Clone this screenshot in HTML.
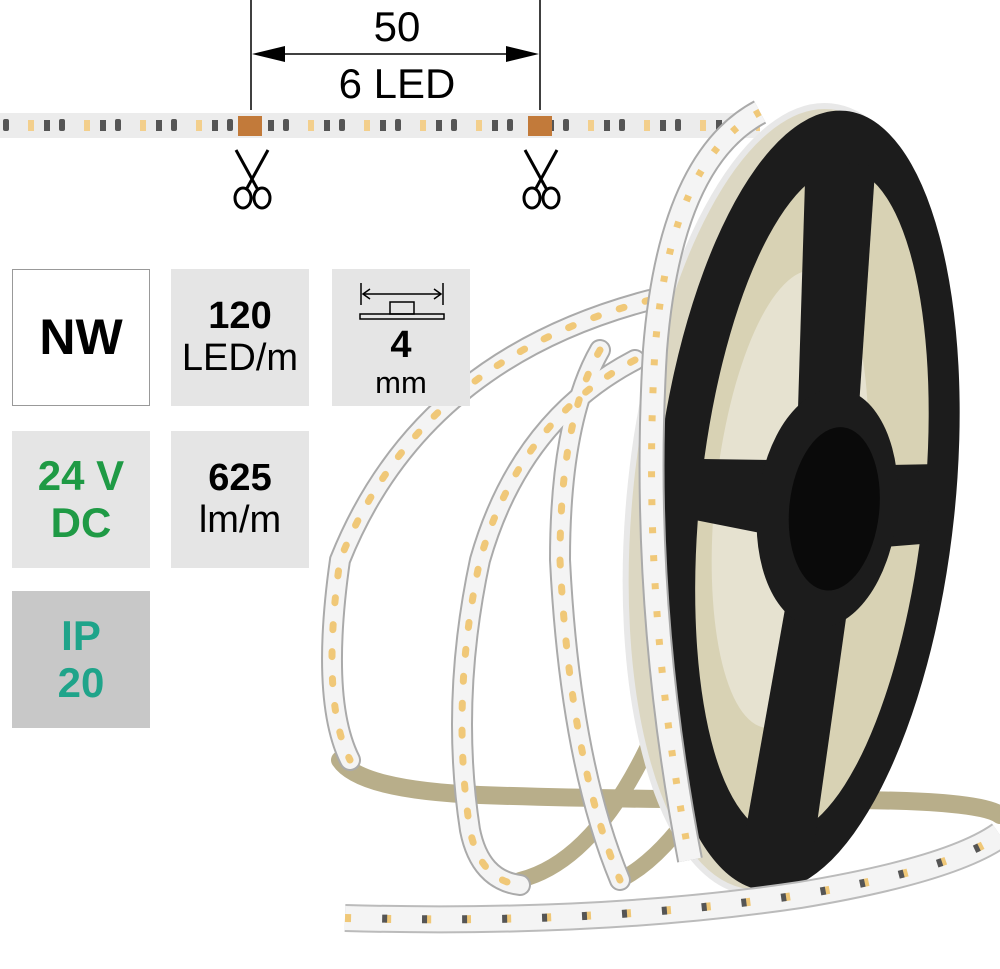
<!DOCTYPE html>
<html><head><meta charset="utf-8">
<style>
body{margin:0;width:1000px;height:969px;background:#fff;overflow:hidden;position:relative;font-family:"Liberation Sans",sans-serif}
.b{position:absolute;width:138px;height:137px;box-sizing:border-box;display:flex;flex-direction:column;align-items:center;justify-content:center;text-align:center;line-height:1.1}
.bold{font-weight:bold}
svg{position:absolute;left:0;top:0}
</style></head><body>
<svg width="1000" height="969" viewBox="0 0 1000 969">
<defs>
<pattern id="leds" x="0" y="112" width="56" height="28" patternUnits="userSpaceOnUse">
<rect x="3" y="7" width="6" height="12" rx="2" fill="#555"/>
<rect x="28" y="8" width="6" height="11" fill="#f3cf8c"/>
<rect x="44" y="8" width="6" height="11" fill="#555"/>
</pattern>
</defs>
<rect x="0" y="113" width="760" height="25" fill="#ececec"/>
<rect x="0" y="113" width="760" height="25" fill="url(#leds)"/>
<rect x="238" y="116" width="24" height="20" fill="#c27a3a"/>
<rect x="528" y="116" width="24" height="20" fill="#c27a3a"/>
<line x1="251" y1="0" x2="251" y2="110" stroke="#000" stroke-width="1.5"/>
<line x1="540" y1="0" x2="540" y2="110" stroke="#000" stroke-width="1.5"/>
<line x1="270" y1="54" x2="520" y2="54" stroke="#000" stroke-width="1.5"/>
<polygon points="252,54 285,46 285,62" fill="#000"/>
<polygon points="539,54 506,46 506,62" fill="#000"/>
<text x="397" y="41" font-size="42" text-anchor="middle" font-family="Liberation Sans">50</text>
<text x="397" y="98" font-size="42" text-anchor="middle" font-family="Liberation Sans">6 LED</text>
<g stroke="#000" stroke-width="3" fill="none">
<path d="M236 150 L258 190 M268 150 L246 190"/><ellipse cx="243" cy="198" rx="8" ry="10"/><ellipse cx="262" cy="198" rx="8" ry="10"/>
<path d="M525 150 L547 190 M557 150 L535 190"/><ellipse cx="532" cy="198" rx="8" ry="10"/><ellipse cx="551" cy="198" rx="8" ry="10"/>
</g>
<g fill="none" stroke-linecap="round">
<path d="M340 760 Q360 790 480 795 Q620 800 840 800 Q980 800 1000 815" stroke="#b8ae8a" stroke-width="18"/>
<path d="M520 880 Q600 860 660 720" stroke="#b8ae8a" stroke-width="16"/>
<path d="M620 880 Q660 860 700 800" stroke="#b8ae8a" stroke-width="16"/>
</g>
<g fill="none" stroke-linecap="round">
<g stroke="#aaa" stroke-width="22">
<path d="M650 300 Q420 360 340 560 Q320 700 350 760"/>
<path d="M635 360 Q520 420 480 560 Q450 700 470 830 Q480 880 520 885"/>
<path d="M600 350 Q560 420 560 560 Q570 760 620 880"/>
</g>
<g stroke="#f4f4f4" stroke-width="18">
<path d="M650 300 Q420 360 340 560 Q320 700 350 760"/>
<path d="M635 360 Q520 420 480 560 Q450 700 470 830 Q480 880 520 885"/>
<path d="M600 350 Q560 420 560 560 Q570 760 620 880"/>
</g>
<g stroke="#f0c878" stroke-width="7" stroke-dasharray="5 22">
<path d="M650 300 Q420 360 340 560 Q320 700 350 760"/>
<path d="M635 360 Q520 420 480 560 Q450 700 470 830 Q480 880 520 885"/>
<path d="M600 350 Q560 420 560 560 Q570 760 620 880"/>
</g>
</g>
<g transform="rotate(6 798 500)">
<ellipse cx="790" cy="500" rx="160" ry="395" fill="#dcd7c2" stroke="#e8e8e8" stroke-width="6"/>
<ellipse cx="805" cy="500" rx="150" ry="392" fill="#1c1c1c"/>
<ellipse cx="812" cy="500" rx="112" ry="335" fill="#d8d2b4"/>
<ellipse cx="790" cy="500" rx="75" ry="230" fill="#e6e2d0"/>
<polygon points="770,160 840,160 850,430 790,430" fill="#1c1c1c"/>
<polygon points="800,560 860,560 850,840 780,840" fill="#1c1c1c"/>
<polygon points="690,470 800,460 800,540 690,530" fill="#1c1c1c"/>
<polygon points="850,460 930,450 930,530 850,545" fill="#1c1c1c"/>
<ellipse cx="828" cy="505" rx="70" ry="120" fill="#1c1c1c"/>
<ellipse cx="835" cy="505" rx="45" ry="82" fill="#0a0a0a"/>
</g>
<path d="M760 112 Q670 160 655 350 Q640 600 690 860" fill="none" stroke="#aaa" stroke-width="26"/>
<path d="M760 112 Q670 160 655 350 Q640 600 690 860" fill="none" stroke="#f4f4f4" stroke-width="22"/>
<path d="M760 112 Q670 160 655 350 Q640 600 690 860" fill="none" stroke="#f0c878" stroke-width="7" stroke-dasharray="6 22"/>
<path d="M345 918 Q600 925 800 895 Q950 870 1000 835" fill="none" stroke="#bbb" stroke-width="28"/>
<path d="M345 918 Q600 925 800 895 Q950 870 1000 835" fill="none" stroke="#f4f4f4" stroke-width="24"/>
<path d="M345 918 Q600 925 800 895 Q950 870 1000 835" fill="none" stroke="#f0c878" stroke-width="8" stroke-dasharray="6 34"/>
<path d="M360 918 Q600 925 800 895 Q950 870 1000 835" fill="none" stroke="#555" stroke-width="8" stroke-dasharray="5 35" stroke-dashoffset="18"/>
</svg>

<div class="b bold" style="left:12px;top:269px;border:1.5px solid #999;background:#fff;font-size:50px">NW</div>
<div class="b" style="left:171px;top:269px;background:#e5e5e5;font-size:38px"><span class="bold">120</span><span>LED/m</span></div>
<div class="b" style="left:332px;top:269px;background:#e5e5e5">
<svg width="138" height="137" style="position:absolute;left:0;top:0">
<line x1="29" y1="14" x2="29" y2="36" stroke="#000" stroke-width="1.5"/><line x1="111" y1="14" x2="111" y2="36" stroke="#000" stroke-width="1.5"/>
<line x1="31" y1="25" x2="109" y2="25" stroke="#000" stroke-width="1.5"/>
<polyline points="38,20 31,25 38,30" fill="none" stroke="#000" stroke-width="1.5"/><polyline points="102,20 109,25 102,30" fill="none" stroke="#000" stroke-width="1.5"/>
<rect x="58" y="33" width="24" height="12" fill="none" stroke="#000" stroke-width="1.5"/>
<rect x="28" y="45" width="84" height="5" fill="none" stroke="#000" stroke-width="1.5"/>
</svg>
<span class="bold" style="font-size:38px;margin-top:50px">4</span><span style="font-size:31px">mm</span></div>
<div class="b bold" style="left:12px;top:431px;background:#e5e5e5;color:#1f9a45;font-size:42px"><span>24 V</span><span>DC</span></div>
<div class="b" style="left:171px;top:431px;background:#e5e5e5;font-size:38px"><span class="bold">625</span><span>lm/m</span></div>
<div class="b bold" style="left:12px;top:591px;background:#c8c8c8;color:#1fa48a;font-size:42px"><span>IP</span><span>20</span></div>
</body></html>
